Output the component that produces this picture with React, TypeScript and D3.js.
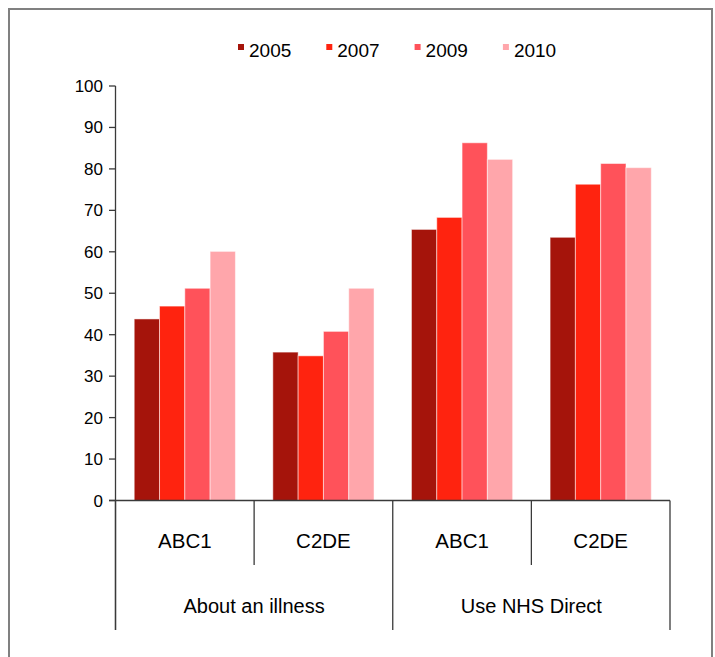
import React from "react";
import * as d3 from "d3";

const groups = ["About an illness", "Use NHS Direct"];
const categories = ["ABC1", "C2DE", "ABC1", "C2DE"];
const years = ["2005", "2007", "2009", "2010"];
const colors = ["#A5140B", "#FF230F", "#FF525A", "#FFA6AB"];
const v2005 = [43.8, 35.8, 65.4, 63.5];
const v2007 = [46.9, 34.9, 68.3, 76.3];
const v2009 = [51.2, 40.8, 86.3, 81.3];
const v2010 = [60.1, 51.2, 82.3, 80.3];
const yTicks = [0, 10, 20, 30, 40, 50, 60, 70, 80, 90, 100];

const series = [v2005, v2007, v2009, v2010];
const FONT = "'Liberation Sans', Arial, sans-serif";

export default function App() {
  const W = 715, H = 657;
  const x0 = 115.5, x1 = 670;
  const y = d3.scaleLinear().domain([0, 100]).range([500.5, 86]);
  const xCat = d3.scaleBand<number>().domain(d3.range(categories.length)).range([x0, x1]).paddingInner(0).paddingOuter(0);
  const catW = xCat.bandwidth();
  const xYear = d3.scaleBand<number>().domain(d3.range(years.length)).range([catW * 0.135, catW * 0.865]).paddingInner(0);
  const base = y(0);
  const lineColor = "#3a3a3a";

  return (
    <svg width={W} height={H} style={{ position: "absolute", left: 0, top: 0, background: "#fff" }} fontFamily={FONT}>
      <rect x={0} y={0} width={W} height={H} fill="#fff" />
      <rect x={9} y={9} width={703} height={700} fill="none" stroke="#808080" strokeWidth={2} />

      {/* legend */}
      {years.map((yr, i) => (
        <g key={yr} transform={`translate(${238 + i * 88.3},0)`}>
          <rect x={0} y={44} width={6} height={6} fill={colors[i]} />
          <text x={11} y={57} fontSize={19} fill="#000">{yr}</text>
        </g>
      ))}

      {/* bars */}
      {categories.map((c, ci) => (
        <g key={ci} transform={`translate(${xCat(ci)},0)`}>
          {series.map((s, si) => (
            <rect
              key={si}
              x={xYear(si)}
              y={y(s[ci])}
              width={xYear.bandwidth()}
              height={base - y(s[ci])}
              fill={colors[si]}
              stroke="#ffffff"
              strokeOpacity={0.5}
              strokeWidth={1}
            />
          ))}
        </g>
      ))}

      {/* y axis */}
      <line x1={x0} x2={x0} y1={y(100)} y2={630} stroke={lineColor} strokeWidth={1.3} />
      {yTicks.map((t) => (
        <g key={t}>
          <line x1={109} x2={x0} y1={y(t)} y2={y(t)} stroke={lineColor} strokeWidth={1.3} />
          <text x={103} y={y(t) + 6} fontSize={17} textAnchor="end" fill="#000">{t}</text>
        </g>
      ))}
      <line x1={109} x2={x1} y1={base} y2={base} stroke={lineColor} strokeWidth={1.3} />

      {/* category dividers */}
      {d3.range(categories.length + 1).map((i) => {
        const xx = i === categories.length ? x1 : (xCat(i) as number);
        const long = i % 2 === 0;
        return <line key={i} x1={xx} x2={xx} y1={base} y2={long ? 630 : 565} stroke={lineColor} strokeWidth={1.3} />;
      })}
      {categories.map((c, ci) => (
        <text key={ci} x={(xCat(ci) as number) + catW / 2} y={548} fontSize={20.5} textAnchor="middle" fill="#000">{c}</text>
      ))}
      {groups.map((g, gi) => (
        <text key={g} x={(xCat(gi * 2) as number) + catW} y={613} fontSize={20} textAnchor="middle" fill="#000">{g}</text>
      ))}
    </svg>
  );
}
